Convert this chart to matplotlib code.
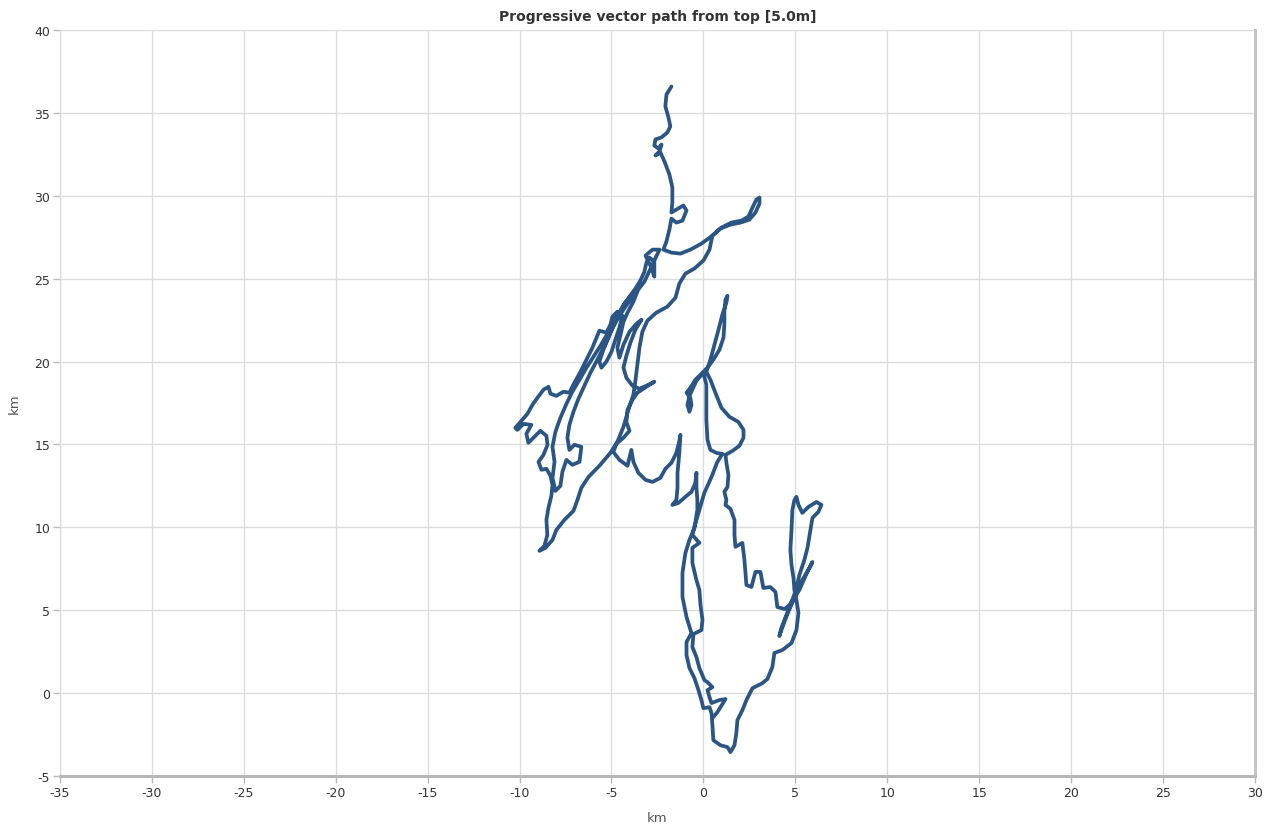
import numpy as np
import matplotlib
matplotlib.use("Agg")
import matplotlib.pyplot as plt

plt.rcParams["axes.unicode_minus"] = False

# path (km east, km north)
path_x = [
    -1.74, -2.01, -2.07, -1.90, -1.80, -1.96, -2.28, -2.61, -2.67, -2.45, -2.28, -2.39, -2.61, -2.34,
    -2.12, -1.85, -1.69, -1.69, -1.74, -1.47, -1.09, -0.92, -1.14, -1.47, -1.74, -1.85, -2.01, -2.18,
    -1.74, -1.25, -0.71, -0.11, 0.49, 0.98, 1.52, 2.07, 2.45, 2.67, 2.88, 3.05, 3.05, 2.83, 2.50,
    2.01, 1.47, 0.92, 0.49,
    0.33, 0.00, -0.49, -0.98, -1.31, -1.52, -1.96, -2.56, -3.05, -3.32, -3.48, -3.59, -3.70, -3.81,
    -4.08, -4.35, -4.68, -5.06, -5.66, -6.25, -6.64, -6.85, -7.07, -7.56, -8.00, -8.21, -8.59, -8.92,
    -8.65, -8.49, -8.54, -8.43, -8.27, -8.21, -8.32, -8.54,
    -8.81, -8.97, -8.70, -8.48, -8.54, -8.87, -9.25, -9.52, -9.63, -9.36, -9.79, -10.12, -10.23,
    -9.95, -9.57, -9.30, -9.03, -8.70, -8.43, -8.32, -8.00, -7.61, -7.29,
    -7.02, -6.69, -6.36, -6.04, -5.77, -5.66, -5.28, -5.06, -4.95, -4.68, -4.41, -4.57, -4.79, -5.00,
    -5.28, -5.55, -5.66, -5.44, -5.17, -4.90, -4.62, -4.35, -4.02, -3.70, -3.43, -3.21, -3.10, -2.94,
    -2.67, -2.67, -2.83, -3.15, -2.77, -2.39,
    -3.21, -3.59, -3.97, -4.35, -4.73, -5.06, -5.38, -5.77, -6.15, -6.47, -6.80, -7.07, -7.29, -7.40,
    -7.29, -7.02, -6.64, -6.74, -7.13, -7.45, -7.67, -7.78, -8.05, -8.21, -8.10, -8.21, -8.05, -7.78,
    -7.45, -7.13, -6.74, -6.36, -5.98, -5.60, -5.28, -5.00, -4.68, -4.30, -3.86, -3.59, -3.81, -4.13,
    -4.35, -4.51, -4.68, -4.57,
    -4.35, -4.02, -3.64, -3.37, -3.70, -3.97, -4.19, -4.35, -4.19, -3.86, -3.48, -3.10, -2.67, -3.10,
    -3.59, -3.86, -4.13, -4.19, -4.02, -4.35, -4.73, -4.90, -4.57, -4.13, -3.92, -3.81, -3.54, -3.15,
    -2.77, -2.34, -2.07, -1.74, -1.47, -1.31, -1.25, -1.31, -1.41, -1.41, -1.47, -1.69, -1.36, -0.98,
    -0.65, -0.44, -0.38, -0.38, -0.33, -0.33,
    -0.49, -0.76, -0.98, -1.14, -1.14, -0.92, -0.65, -0.92, -0.92, -0.76, -0.49, -0.27, -0.11, 0.00,
    0.33, 0.44, 0.49, 0.54, 0.92, 1.31, 1.47, 1.69, 1.79, 1.85, 2.12, 2.34, 2.67, 3.21, 3.48, 3.75,
    3.86, 4.30, 4.79, 5.06, 5.17, 5.06, 4.95,
    4.90, 4.79, 4.73, 4.79, 4.84, 4.95, 5.06, 5.17, 5.38, 5.71, 6.15, 6.42, 6.25, 5.93, 5.82, 5.66,
    5.49, 5.22, 5.06, 4.84, 4.51, 4.24, 4.13, 4.24, 4.57, 4.95, 5.38, 5.77, 5.93, 5.60, 5.22,
    4.68, 4.41, 4.02, 3.92, 3.64, 3.26, 3.10, 2.83, 2.61, 2.34, 2.23, 2.12, 1.74, 1.69, 1.69, 1.47,
    1.20, 1.25, 1.14, 1.31, 1.36, 1.25, 1.20,
    1.58, 1.96, 2.18, 2.18, 1.90, 1.41, 0.98, 0.65, 0.38, 0.16,
    0.38, 0.60, 0.82, 1.03, 1.25, 1.31, 1.20, 1.14, 1.14, 1.09, 0.87, 0.54, 0.22, -0.11, -0.44, -0.71,
    -0.92, -0.71, -0.65, -0.76, -0.87, -0.76, -0.38, 0.00,
    0.16, 0.16, 0.16, 0.22, 0.38, 0.71, 1.03,
    0.76, 0.44, 0.05, -0.22, -0.49, -0.60,
    -0.22, -0.60, -0.60, -0.38, -0.22, -0.16, -0.05, -0.11, -0.54, -0.60, -0.38, -0.22, 0.05, 0.22,
    0.49, 0.22, 0.33, 0.44, 0.87, 1.20, 0.76, 0.49,
]
path_y = [
    36.59, 36.11, 35.39, 34.72, 34.18, 33.82, 33.52, 33.40, 33.03, 32.85, 33.09, 32.67, 32.43, 32.61,
    32.07, 31.28, 30.50, 29.59, 28.99, 29.17, 29.41, 29.11, 28.50, 28.38, 28.62, 27.96, 27.24, 26.75,
    26.57, 26.51, 26.75, 27.11, 27.60, 28.08, 28.38, 28.50, 28.75, 29.29, 29.77, 29.89, 29.53, 28.99,
    28.56, 28.38, 28.26, 28.02, 27.60,
    26.75, 26.09, 25.61, 25.30, 24.70, 23.85, 23.31, 22.95, 22.46, 21.80, 20.83, 19.81, 18.84, 18.00,
    17.09, 16.06, 15.16, 14.49, 13.71, 13.04, 12.38, 11.66, 10.99, 10.45, 9.84, 9.24, 8.76, 8.58,
    8.88, 9.54, 10.45, 11.17, 11.90, 12.56, 13.11, 13.53,
    13.47, 13.95, 14.37, 14.98, 15.52, 15.82, 15.40, 15.10, 15.64, 16.18, 16.24, 15.88, 16.00,
    16.36, 16.85, 17.39, 17.81, 18.30, 18.48, 18.06, 17.93, 18.18, 18.12,
    18.72, 19.38, 20.11, 20.83, 21.56, 21.86, 21.74, 22.22, 22.71, 23.01, 22.77, 22.04, 21.32, 20.59,
    19.99, 19.63, 19.99, 20.71, 21.44, 22.16, 22.77, 23.37, 23.91, 24.40, 24.88, 25.42, 25.97, 26.27,
    26.03, 25.12, 25.66, 26.39, 26.75, 26.75,
    24.82, 24.28, 23.73, 23.13, 22.46, 21.74, 20.95, 20.11, 19.32, 18.54, 17.75, 16.97, 16.18, 15.40,
    14.67, 14.98, 14.86, 13.95, 13.77, 14.07, 13.35, 12.50, 12.20, 12.98, 13.95, 14.86, 15.76, 16.61,
    17.45, 18.18, 18.90, 19.63, 20.29, 20.95, 21.56, 22.16, 22.77, 23.49, 24.09, 24.22, 23.61, 22.95,
    22.40, 21.62, 20.83, 20.23,
    21.01, 21.80, 22.28, 22.52, 21.92, 21.14, 20.35, 19.63, 19.02, 18.54, 18.36, 18.54, 18.78, 18.48,
    18.12, 17.69, 17.09, 16.36, 15.82, 15.40, 15.04, 14.55, 14.07, 13.71, 14.67, 13.95, 13.29, 12.86,
    12.74, 12.98, 13.53, 13.89, 14.49, 15.22, 15.58, 14.49, 13.29, 12.38, 11.65, 11.35, 11.47, 11.84,
    12.14, 12.68, 13.29, 12.44, 11.65, 11.05,
    9.96, 9.24, 8.45, 7.25, 5.80, 4.59, 3.62, 3.08, 2.29, 1.51, 0.91, 0.18, -0.42, -0.91,
    -0.85, -1.21, -1.93, -2.84, -3.14, -3.26, -3.56, -3.14, -2.42, -1.63, -1.03, -0.42, 0.30, 0.60,
    0.85, 1.57, 2.42, 2.60, 3.02, 3.80, 4.83, 5.62, 6.22,
    6.94, 7.73, 8.64, 9.84, 11.05, 11.65, 11.84, 11.35, 10.87, 11.23, 11.53, 11.35, 10.93, 10.57,
    9.84, 8.76, 8.03, 7.13, 6.34, 5.62, 4.71, 3.93, 3.44, 3.80, 4.77, 5.74, 6.82, 7.55, 7.91, 7.19,
    6.22,
    5.31, 5.07, 5.19, 6.10, 6.40, 6.34, 7.31, 7.31, 6.40, 6.52, 8.03, 9.06, 8.82, 9.54, 10.45, 11.11,
    11.35, 11.65, 12.14, 12.44, 13.16, 13.89, 14.37,
    14.61, 14.92, 15.40, 15.88, 16.36, 16.67, 17.21, 18.12, 18.90, 19.38,
    20.11, 21.01, 21.92, 22.83, 23.55, 23.97, 23.73, 23.01, 22.22, 21.44, 20.71, 20.11, 19.63, 19.26,
    18.90, 18.42, 18.12, 17.81, 17.39, 16.97, 17.39, 17.93, 18.84, 19.32,
    18.60, 17.69, 16.49, 15.28, 14.67, 14.49, 14.43,
    13.95, 13.04, 12.08, 11.05, 10.02, 9.54,
    9.06, 8.76, 7.85, 6.82, 6.22, 5.31, 4.41, 3.80, 3.56, 2.78, 2.17, 1.51, 0.79, 0.66,
    0.36, 0.18, -0.24, -0.60, -0.42, -0.36, -1.15, -1.51,
]

x_ticks = list(range(-35, 31, 5))
y_ticks = list(range(-5, 41, 5))
title = "Progressive vector path from top [5.0m]"

fig = plt.figure(figsize=(12.76, 8.28), dpi=100)
ax = fig.add_axes([0.047, 0.0616, 0.9365, 0.901])

ax.plot(path_x, path_y, color="#2b5585", lw=2.7, solid_joinstyle="round",
        solid_capstyle="round", zorder=3)

ax.set_xlim(-35, 30)
ax.set_ylim(-5, 40)
ax.set_xticks(x_ticks)
ax.set_yticks(y_ticks)
ax.grid(True, color="#dddddd", lw=1)
ax.set_axisbelow(True)

ax.spines["top"].set_visible(False)
ax.spines["left"].set_color("#dddddd")
ax.spines["left"].set_linewidth(1)
ax.spines["bottom"].set_color("#b8b8b8")
ax.spines["bottom"].set_linewidth(2.2)
ax.spines["right"].set_color("#c4c4c4")
ax.spines["right"].set_linewidth(2.2)

ax.tick_params(axis="both", colors="#bbbbbb", labelcolor="#333333",
               labelsize=9, length=5, width=1, pad=2)

ax.set_xlabel("km", fontsize=9.5, color="#555555", labelpad=9)
ax.set_ylabel("km", fontsize=9.5, color="#555555", labelpad=10)
ax.set_title(title, fontsize=10, fontweight="bold", color="#333333", pad=7)

fig.savefig("out.png", dpi=100)
